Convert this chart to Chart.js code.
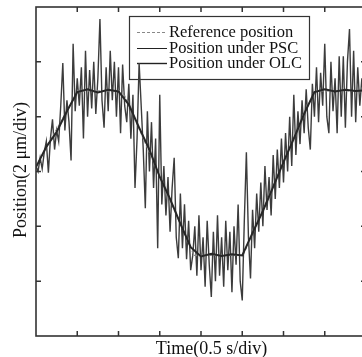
<!DOCTYPE html>
<html>
<head>
<meta charset="utf-8">
<script src="https://cdn.jsdelivr.net/npm/chart.js@4.4.0/dist/chart.umd.min.js"></script>
<style>
  html, body { margin: 0; padding: 0; overflow: hidden; background: #fff; }
</style>
</head>
<body>
<canvas id="posChart" width="372" height="357"></canvas>
<script>
// reference trajectory (time in 0.5 s divisions, position in 2 um divisions)
const refTime = [0, 1.02, 2.1, 3.83, 5.02, 6.75, 8];
const refPosition = [3.1, 4.47, 4.47, 1.47, 1.47, 4.47, 4.47];

// PSC tracking, sampled every 0.25 div
const pscStep = 0.25;
const pscPosition = [
  3.08, 3.45, 3.72, 4.10, 4.45, 4.50, 4.44, 4.49, 4.46, 4.22, 3.80,
  3.40, 2.90, 2.50, 2.05, 1.62, 1.45, 1.50, 1.46, 1.49, 1.47, 1.88,
  2.28, 2.72, 3.17, 3.60, 4.05, 4.45, 4.50, 4.46, 4.49, 4.47, 4.48
];

// OLC tracking, sampled every 0.05 div
const olcStep = 0.05;
const olcPosition = [
  3.10, 3.00, 3.25, 3.05, 3.35, 3.55, 2.98, 3.60, 3.95, 3.40,
  3.75, 3.55, 4.20, 4.98, 3.75, 4.30, 3.90, 3.20, 5.33, 4.10,
  4.70, 4.20, 4.90, 3.60, 5.20, 4.00, 4.85, 4.15, 5.00, 4.05,
  4.70, 5.78, 4.30, 3.80, 4.90, 4.10, 5.20, 4.30, 5.00, 4.00,
  4.90, 3.70, 4.95, 4.20, 3.90, 4.60, 3.60, 4.40, 2.70, 3.60,
  4.98, 4.20, 3.40, 2.33, 4.10, 3.00, 3.90, 2.70, 3.60, 1.60,
  4.40, 2.40, 3.10, 2.20, 2.90, 1.90, 2.70, 3.25, 1.80, 1.42,
  2.60, 1.60, 2.40, 1.40, 2.10, 1.20, 1.47, 2.00, 1.10, 2.20,
  1.20, 1.80, 0.90, 2.10, 1.30, 0.71, 1.90, 1.00, 2.20, 1.10,
  1.80, 0.90, 2.10, 1.20, 1.90, 0.80, 2.00, 1.30, 2.40, 1.00,
  0.65, 2.10, 3.35, 1.80, 1.05, 2.30, 1.60, 2.60, 1.90, 2.80,
  2.00, 3.10, 2.30, 2.90, 2.20, 3.30, 2.50, 3.40, 2.70, 3.60,
  2.80, 3.70, 3.00, 4.00, 3.10, 4.40, 3.30, 4.10, 3.50, 4.30,
  3.70, 4.50, 3.80, 3.40, 4.60, 4.00, 4.90, 3.90, 4.80, 4.20,
  5.33, 4.00, 3.70, 5.00, 4.10, 4.70, 3.70, 5.10, 4.00, 5.10,
  3.80, 5.00, 5.60, 4.00, 5.20, 3.90, 4.90, 4.20, 4.70, 4.30,
  4.50
];

const legendLabels = ["Reference position", "Position under PSC", "Position under OLC"];
const xTitle = "Time(0.5 s/div)";
const yTitle = "Position(2 \u03bcm/div)";

const toPoints = (xs, ys) => ys.map((y, i) => ({ x: xs[i], y: y }));
const byStep = (ys, step) => ys.map((y, i) => ({ x: i * step, y: y }));

const serif = "'Liberation Serif', 'Times New Roman', serif";

// frame, inward ticks, titles and the boxed legend
const decorations = {
  id: "decorations",
  beforeDatasetsDraw(chart) {
    const ctx = chart.ctx;
    ctx.save();
    ctx.strokeStyle = "#333";
    ctx.lineWidth = 1.2;
    ctx.strokeRect(129.5, 16.5, 180, 63);
    const rows = [32, 48, 63];
    ctx.font = "16.5px " + serif;
    ctx.fillStyle = "#111";
    ctx.textBaseline = "middle";
    rows.forEach((y, i) => {
      ctx.beginPath();
      if (i === 0) {
        ctx.setLineDash([3, 2]);
        ctx.strokeStyle = "#888";
        ctx.lineWidth = 1.2;
      } else {
        ctx.setLineDash([]);
        ctx.strokeStyle = "#222";
        ctx.lineWidth = i === 2 ? 1.4 : 1;
      }
      ctx.moveTo(137, y + 0.5);
      ctx.lineTo(167, y + 0.5);
      ctx.stroke();
      ctx.fillText(legendLabels[i], 169, y + 1);
    });
    ctx.restore();
  },
  afterDraw(chart) {
    const ctx = chart.ctx;
    const a = chart.chartArea;
    const xs = chart.scales.x;
    const ys = chart.scales.y;
    ctx.save();
    ctx.strokeStyle = "#333";
    ctx.lineWidth = 1.6;
    ctx.strokeRect(a.left, a.top, a.right - a.left, a.bottom - a.top);
    ctx.lineWidth = 1.5;
    ctx.beginPath();
    for (let i = 1; i < 8; i++) {
      const px = xs.getPixelForValue(i);
      ctx.moveTo(px, a.bottom); ctx.lineTo(px, a.bottom - 5);
      ctx.moveTo(px, a.top); ctx.lineTo(px, a.top + 5);
    }
    for (let j = 1; j < 6; j++) {
      const py = ys.getPixelForValue(j);
      ctx.moveTo(a.left, py); ctx.lineTo(a.left + 5, py);
      ctx.moveTo(a.right, py); ctx.lineTo(a.right - 5, py);
    }
    ctx.stroke();

    ctx.fillStyle = "#111";
    ctx.font = "18px " + serif;
    ctx.textAlign = "center";
    ctx.textBaseline = "middle";
    ctx.fillText(xTitle, 211.5, 349);
    ctx.translate(21, 170);
    ctx.rotate(-Math.PI / 2);
    ctx.fillText(yTitle, 0, 0);
    ctx.restore();
  }
};

const ctx = document.getElementById("posChart").getContext("2d");
new Chart(ctx, {
  type: "line",
  data: {
    datasets: [
      {
        label: legendLabels[1],
        data: byStep(pscPosition, pscStep),
        borderColor: "#262626",
        borderWidth: 2,
      },
      {
        label: legendLabels[0],
        data: toPoints(refTime, refPosition),
        borderColor: "#888",
        borderWidth: 1.2,
        borderDash: [3, 2],
      },
      {
        label: legendLabels[2],
        data: byStep(olcPosition, olcStep),
        borderColor: "#3c3c3c",
        borderWidth: 1.4,
      },
    ],
  },
  options: {
    responsive: false,
    animation: false,
    events: [],
    elements: { point: { radius: 0 }, line: { tension: 0 } },
    layout: { padding: { left: 36, top: 7, right: 6, bottom: 21 } },
    scales: {
      x: { type: "linear", min: 0, max: 8, display: false },
      y: { min: 0, max: 6, display: false },
    },
    plugins: {
      legend: { display: false },
      tooltip: { enabled: false },
    },
  },
  plugins: [decorations],
});
</script>
</body>
</html>
